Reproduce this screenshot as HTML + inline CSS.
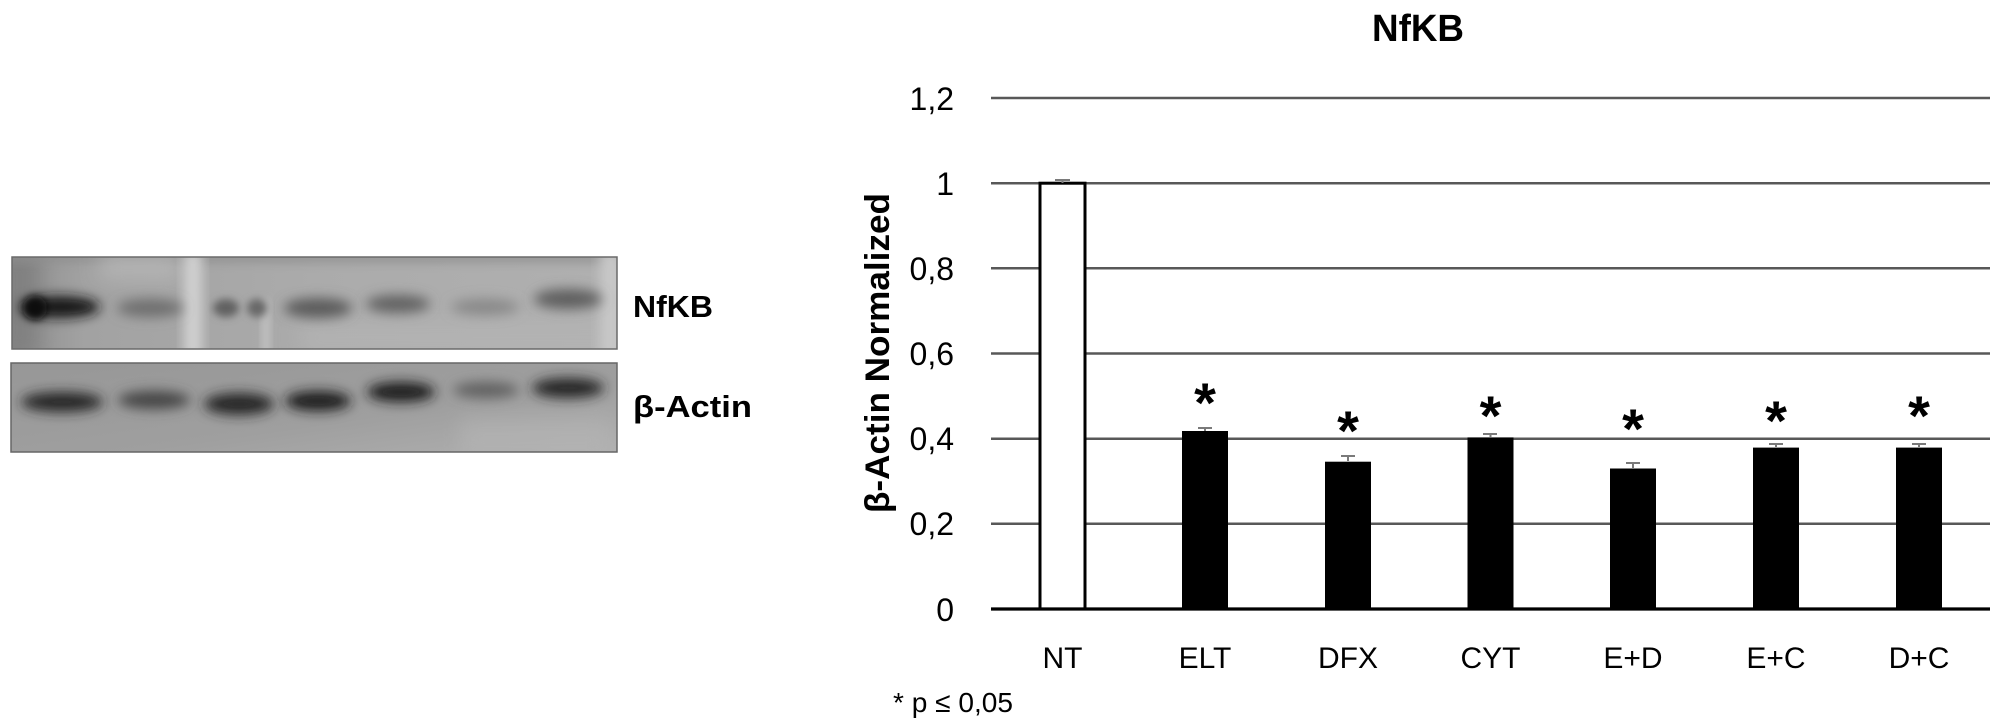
<!DOCTYPE html>
<html>
<head>
<meta charset="utf-8">
<style>
  html,body{margin:0;padding:0;background:#fff;}
  svg{display:block;}
  text{font-family:"Liberation Sans", "DejaVu Sans", sans-serif;}
</style>
</head>
<body>
<svg width="2000" height="727" viewBox="0 0 2000 727" xmlns="http://www.w3.org/2000/svg">
  <defs>
    <filter id="b6" x="-40%" y="-150%" width="180%" height="400%"><feGaussianBlur stdDeviation="6"/></filter>
    <filter id="b4" x="-40%" y="-150%" width="180%" height="400%"><feGaussianBlur stdDeviation="4"/></filter>
    <filter id="b10" x="-50%" y="-50%" width="200%" height="200%"><feGaussianBlur stdDeviation="10"/></filter>
    <clipPath id="c1"><rect x="12" y="257" width="605" height="92"/></clipPath>
    <clipPath id="c2"><rect x="11" y="363" width="606" height="89"/></clipPath>
    <linearGradient id="g1" x1="0" y1="0" x2="1" y2="0">
      <stop offset="0" stop-color="#8e8e8e"/>
      <stop offset="0.12" stop-color="#a2a2a2"/>
      <stop offset="0.5" stop-color="#ababab"/>
      <stop offset="1" stop-color="#b0b0b0"/>
    </linearGradient>
    <linearGradient id="g2" x1="0" y1="0" x2="1" y2="1">
      <stop offset="0" stop-color="#979797"/>
      <stop offset="0.6" stop-color="#9f9f9f"/>
      <stop offset="1" stop-color="#b0b0b0"/>
    </linearGradient>
  </defs>

  <!-- NfKB blot -->
  <g clip-path="url(#c1)">
    <rect x="12" y="257" width="605" height="92" fill="url(#g1)"/>
    <rect x="0" y="250" width="40" height="110" fill="#7a7a7a" filter="url(#b10)" opacity="0.7"/>
    <rect x="0" y="250" width="630" height="14" fill="#8e8e8e" filter="url(#b4)" opacity="0.6"/>
    <rect x="100" y="250" width="80" height="30" fill="#bdbdbd" filter="url(#b10)" opacity="0.6"/>
    <rect x="300" y="320" width="320" height="35" fill="#b6b6b6" filter="url(#b10)" opacity="0.6"/>
    <rect x="184" y="250" width="18" height="110" fill="#d2d2d2" filter="url(#b6)"/>
    <rect x="262" y="300" width="8" height="55" fill="#c2c2c2" filter="url(#b4)"/>
    <rect x="600" y="250" width="22" height="110" fill="#c8c8c8" filter="url(#b6)"/>
    <ellipse cx="60" cy="307" rx="40" ry="11" fill="#151515" filter="url(#b6)"/>
    <ellipse cx="35" cy="308" rx="12" ry="12" fill="#101010" filter="url(#b4)"/>
    <ellipse cx="150" cy="308" rx="33" ry="9" fill="#6e6e6e" filter="url(#b6)"/>
    <ellipse cx="226" cy="308" rx="13" ry="9" fill="#626262" filter="url(#b4)"/>
    <ellipse cx="257" cy="308" rx="10" ry="9" fill="#686868" filter="url(#b4)"/>
    <ellipse cx="318" cy="308" rx="34" ry="10" fill="#5c5c5c" filter="url(#b6)"/>
    <ellipse cx="398" cy="304" rx="32" ry="9" fill="#626262" filter="url(#b6)"/>
    <ellipse cx="485" cy="307" rx="34" ry="8" fill="#888888" filter="url(#b6)"/>
    <ellipse cx="568" cy="299" rx="34" ry="10" fill="#5e5e5e" filter="url(#b6)"/>
  </g>
  <rect x="12" y="257" width="605" height="92" fill="none" stroke="#6a6a6a" stroke-width="1.5"/>

  <!-- beta-actin blot -->
  <g clip-path="url(#c2)">
    <rect x="11" y="363" width="606" height="89" fill="url(#g2)"/>
    <rect x="460" y="420" width="150" height="40" fill="#b4b4b4" filter="url(#b10)" opacity="0.7"/>
    <ellipse cx="62" cy="402" rx="41" ry="10" fill="#262626" filter="url(#b6)"/>
    <ellipse cx="154" cy="400" rx="36" ry="9" fill="#444444" filter="url(#b6)"/>
    <ellipse cx="239" cy="404" rx="35" ry="11" fill="#262626" filter="url(#b6)"/>
    <ellipse cx="318" cy="401" rx="33" ry="10" fill="#1a1a1a" filter="url(#b6)"/>
    <ellipse cx="401" cy="392" rx="34" ry="10" fill="#1a1a1a" filter="url(#b6)"/>
    <ellipse cx="486" cy="390" rx="33" ry="8" fill="#606060" filter="url(#b6)"/>
    <ellipse cx="568" cy="388" rx="36" ry="10" fill="#262626" filter="url(#b6)"/>
  </g>
  <rect x="11" y="363" width="606" height="89" fill="none" stroke="#666" stroke-width="1.5"/>

  <!-- blot labels -->
  <text x="633" y="317" font-size="31" font-weight="bold" fill="#000" textLength="80" lengthAdjust="spacingAndGlyphs">NfKB</text>
  <text x="633" y="417" font-size="31" font-weight="bold" fill="#000" textLength="119" lengthAdjust="spacingAndGlyphs">β-Actin</text>

  <!-- chart title -->
  <text x="1372" y="41" font-size="38" font-weight="bold" fill="#000" textLength="92" lengthAdjust="spacingAndGlyphs">NfKB</text>

  <!-- gridlines -->
  <g stroke="#585858" stroke-width="2.5">
    <line x1="991" y1="98" x2="1990" y2="98"/>
    <line x1="991" y1="183.2" x2="1990" y2="183.2"/>
    <line x1="991" y1="268.3" x2="1990" y2="268.3"/>
    <line x1="991" y1="353.5" x2="1990" y2="353.5"/>
    <line x1="991" y1="438.7" x2="1990" y2="438.7"/>
    <line x1="991" y1="523.8" x2="1990" y2="523.8"/>
  </g>

  <!-- y tick labels -->
  <g font-size="32" fill="#000" text-anchor="end">
    <text x="954" y="110">1,2</text>
    <text x="954" y="195">1</text>
    <text x="954" y="280">0,8</text>
    <text x="954" y="365">0,6</text>
    <text x="954" y="450">0,4</text>
    <text x="954" y="535">0,2</text>
    <text x="954" y="621">0</text>
  </g>

  <!-- y axis title -->
  <text transform="translate(889,353) rotate(-90)" x="0" y="0" font-size="34" font-weight="bold" text-anchor="middle" fill="#000" textLength="320" lengthAdjust="spacingAndGlyphs">β-Actin Normalized</text>

  <!-- bars -->
  <rect x="1040" y="183.2" width="45" height="425.8" fill="#fff" stroke="#000" stroke-width="3"/>
  <g fill="#000">
    <rect x="1182" y="431" width="46" height="178"/>
    <rect x="1325" y="461.7" width="46" height="147.3"/>
    <rect x="1467.5" y="437.4" width="46" height="171.6"/>
    <rect x="1610" y="468.5" width="46" height="140.5"/>
    <rect x="1753" y="447.6" width="46" height="161.4"/>
    <rect x="1896" y="447.6" width="46" height="161.4"/>
  </g>

  <!-- error bars -->
  <g stroke="#7a7a7a" stroke-width="2">
    <line x1="1062.5" y1="183" x2="1062.5" y2="180"/><line x1="1055" y1="180" x2="1070" y2="180"/>
    <line x1="1205" y1="431" x2="1205" y2="428"/><line x1="1198" y1="428" x2="1212" y2="428"/>
    <line x1="1348" y1="461" x2="1348" y2="456"/><line x1="1341" y1="456" x2="1355" y2="456"/>
    <line x1="1490.5" y1="437" x2="1490.5" y2="434"/><line x1="1483" y1="434" x2="1497" y2="434"/>
    <line x1="1633" y1="468" x2="1633" y2="463"/><line x1="1626" y1="463" x2="1640" y2="463"/>
    <line x1="1776" y1="447" x2="1776" y2="444"/><line x1="1769" y1="444" x2="1783" y2="444"/>
    <line x1="1919" y1="447" x2="1919" y2="444"/><line x1="1912" y1="444" x2="1926" y2="444"/>
  </g>

  <!-- x axis -->
  <line x1="991" y1="609" x2="1990" y2="609" stroke="#000" stroke-width="3.2"/>

  <!-- asterisks -->
  <g font-size="56" font-weight="bold" fill="#000" text-anchor="middle">
    <text x="1205" y="422">*</text>
    <text x="1348" y="450">*</text>
    <text x="1490.5" y="435">*</text>
    <text x="1633" y="448">*</text>
    <text x="1776" y="440">*</text>
    <text x="1919" y="435">*</text>
  </g>

  <!-- x labels -->
  <g font-size="30" fill="#000" text-anchor="middle">
    <text x="1062.5" y="668">NT</text>
    <text x="1205" y="668">ELT</text>
    <text x="1348" y="668">DFX</text>
    <text x="1490.5" y="668">CYT</text>
    <text x="1633" y="668">E+D</text>
    <text x="1776" y="668">E+C</text>
    <text x="1919" y="668">D+C</text>
  </g>

  <!-- footnote -->
  <text x="893" y="712" font-size="28" fill="#000" textLength="120" lengthAdjust="spacingAndGlyphs">* p ≤ 0,05</text>
</svg>
</body>
</html>
